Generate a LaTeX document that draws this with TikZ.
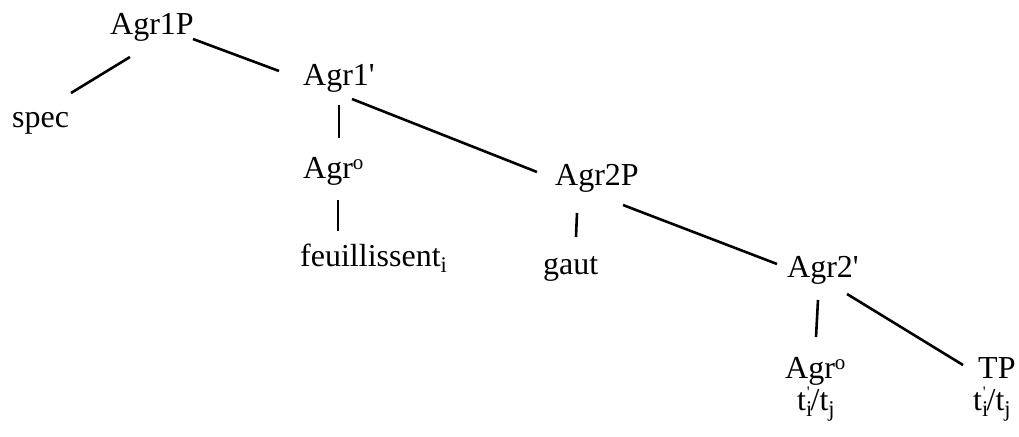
\documentclass[tikz,border=0pt]{standalone}
\usepackage{fontspec}
\setmainfont{Liberation Serif}
\newcommand{\mysupo}{\raisebox{9pt}{\fontsize{21}{24}\selectfont o}}
\newcommand{\myprm}{\textquotesingle}
\newcommand{\mytrace}{t\textsubscript{i}\kern-6pt\raisebox{13pt}{\fontsize{16}{18}\selectfont\myprm}\kern1pt/t\textsubscript{j}}
\begin{document}
\begin{tikzpicture}[x=1pt,y=-1pt,
  lbl/.style={anchor=base west,inner sep=0pt,font=\fontsize{32}{38}\selectfont},
  br/.style={line width=2.6pt}]
\useasboundingbox (0,0) rectangle (1019,436);
\node[lbl] (agr1p) at (110,35) {Agr1P};
\node[lbl] (spec) at (12,127) {spec};
\node[lbl] (agr1b) at (303,85) {Agr1\myprm};
\node[lbl] (agro1) at (303,178) {Agr\mysupo};
\node[lbl] (feuil) at (300,266) {feuillissent\textsubscript{i}};
\node[lbl] (agr2p) at (555,185) {Agr2P};
\node[lbl] (gaut) at (543,274) {gaut};
\node[lbl] (agr2b) at (787,277) {Agr2\myprm};
\node[lbl] (agro2) at (785,378) {Agr\mysupo};
\node[lbl] (tp) at (978,378) {TP};
\node[lbl] (t1) at (797,410) {\mytrace};
\node[lbl] (t2) at (973,410) {\mytrace};
\draw[br] ([shift={(20,22)}]agr1p.base west) -- ([shift={(59,-34)}]spec.base west);
\draw[br] ([shift={(83,4)}]agr1p.base west) -- ([shift={(-24,-14)}]agr1b.base west);
\draw[br] ([shift={(36,20)}]agr1b.base west) -- ([shift={(36,-40)}]agro1.base west);
\draw[br] ([shift={(49,14)}]agr1b.base west) -- ([shift={(-18,-13)}]agr2p.base west);
\draw[br] ([shift={(35,22)}]agro1.base west) -- ([shift={(38,-35)}]feuil.base west);
\draw[br] ([shift={(22,28)}]agr2p.base west) -- ([shift={(33,-37)}]gaut.base west);
\draw[br] ([shift={(68,20)}]agr2p.base west) -- ([shift={(-10,-13)}]agr2b.base west);
\draw[br] ([shift={(31,23)}]agr2b.base west) -- ([shift={(31,-41)}]agro2.base west);
\draw[br] ([shift={(60,17)}]agr2b.base west) -- ([shift={(-15,-13)}]tp.base west);
\end{tikzpicture}
\end{document}
